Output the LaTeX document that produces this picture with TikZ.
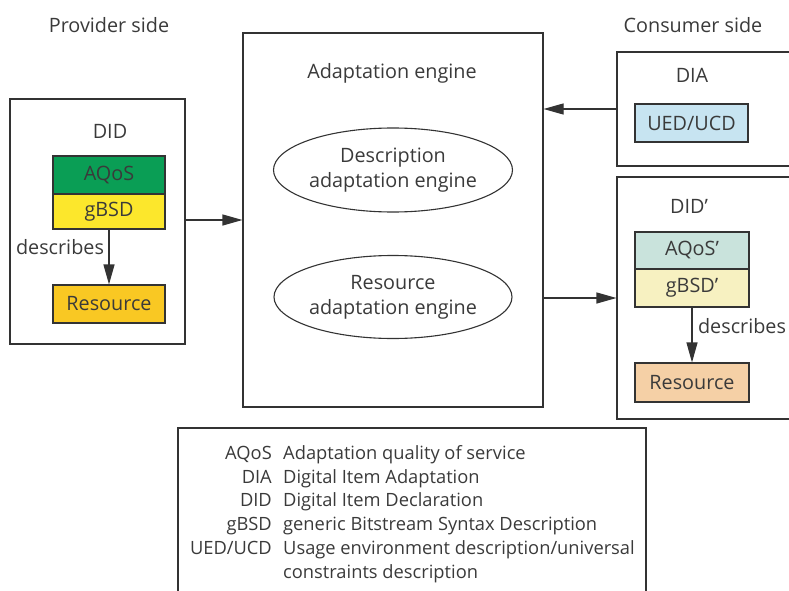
\documentclass[tikz,border=0pt]{standalone}
\usepackage{fontspec}
\setmainfont{Open Sans}
\usetikzlibrary{arrows.meta,shapes.geometric,calc}
\definecolor{txt}{HTML}{3A3A3A}
\definecolor{ln}{HTML}{333333}
\definecolor{cAQoS}{HTML}{0A9E55}
\definecolor{cgBSD}{HTML}{FCE72C}
\definecolor{cRes}{HTML}{F9C823}
\definecolor{cUED}{HTML}{C7E4F1}
\definecolor{cAQoSp}{HTML}{C9E3DC}
\definecolor{cgBSDp}{HTML}{F7F1C1}
\definecolor{cResp}{HTML}{F5D0A6}
\begin{document}
\begin{tikzpicture}[x=1pt,y=-1pt,
  every node/.style={text=txt,inner sep=0pt,font=\fontsize{19.8}{25}\selectfont},
  frame/.style={draw=ln,line width=1.1pt,rectangle},
  cell/.style={draw=ln,line width=1.1pt,rectangle,minimum width=112pt},
  eng/.style={draw=ln,line width=1.1pt,ellipse,align=center,font=\fontsize{19.8}{25}\selectfont},
  arr/.style={draw=ln,line width=1.1pt,-{Triangle[length=20pt,width=11pt]}},
  leg/.style={font=\fontsize{18.3}{22}\selectfont}]
\useasboundingbox (0,0) rectangle (789,591);
% headers
\node (prov) at (109,25) {Provider side};
\node (cons) at (693,25) {Consumer side};
% provider DID
\node[frame,minimum width=175pt,minimum height=245pt] (did) at (97.5,221.5) {};
\node (didl) at (110,131) {DID};
\node[cell,fill=cAQoS,minimum height=38pt] (aqos) at (109,175) {AQoS};
\node[cell,fill=cgBSD,minimum height=35pt] (gbsd) at (109,211.5) {gBSD};
\node[cell,fill=cRes,minimum height=38pt] (res) at (109,304) {Resource};
\draw[arr] (gbsd) -- (res);
\node (desc1) at (60,247) {describes};
% engine
\node[frame,minimum width=300pt,minimum height=374pt] (engine) at (393,220) {};
\node (engl) at (392,73) {Adaptation engine};
\node[eng,minimum width=239pt,minimum height=84pt] (dae) at (393,170) {Description\\adaptation engine};
\node[eng,minimum width=238pt,minimum height=83pt] (rae) at (393,297) {Resource\\adaptation engine};
% consumer DIA
\node[frame,minimum width=190pt,minimum height=114pt] (dia) at (712,109) {};
\node (dial) at (692,75) {DIA};
\node[cell,fill=cUED,minimum width=113pt,minimum height=38pt] (ued) at (691.5,123) {UED/UCD};
% consumer DID'
\node[frame,minimum width=190pt,minimum height=242pt] (didp) at (712,298) {};
\node (didpl) at (689,206) {DID’};
\node[cell,fill=cAQoSp,minimum width=114pt,minimum height=37pt] (aqosp) at (692,250.5) {AQoS’};
\node[cell,fill=cgBSDp,minimum width=114pt,minimum height=38pt] (gbsdp) at (692,288) {gBSD’};
\node[cell,fill=cResp,minimum width=114pt,minimum height=39pt] (resp) at (692,382.5) {Resource};
\draw[arr] (gbsdp) -- (resp);
\node (desc2) at (742,326) {describes};
% connectors
\draw[arr] (did.east |- engine.west) -- (engine.west);
\draw[arr] (dia.west) -- (engine.east |- dia.west);
\draw[arr] (engine.east |- didp.west) -- (didp.west);
% legend
\node[frame,minimum width=468pt,minimum height=172pt] (legend) at (412,514) {};
\node[leg,anchor=base east] (k1) at (272,459) {AQoS};
\node[leg,anchor=base west] (v1) at (283,459) {Adaptation quality of service};
\node[leg,anchor=base east] (k2) at (272,483) {DIA};
\node[leg,anchor=base west] (v2) at (283,483) {Digital Item Adaptation};
\node[leg,anchor=base east] (k3) at (272,506) {DID};
\node[leg,anchor=base west] (v3) at (283,506) {Digital Item Declaration};
\node[leg,anchor=base east] (k4) at (272,530) {gBSD};
\node[leg,anchor=base west] (v4) at (283,530) {generic Bitstream Syntax Description};
\node[leg,anchor=base east] (k5) at (272,554) {UED/UCD};
\node[leg,anchor=base west] (v5) at (283,554) {Usage environment description/universal};
\node[leg,anchor=base west] (v6) at (283,578) {constraints description};
\end{tikzpicture}
\end{document}
